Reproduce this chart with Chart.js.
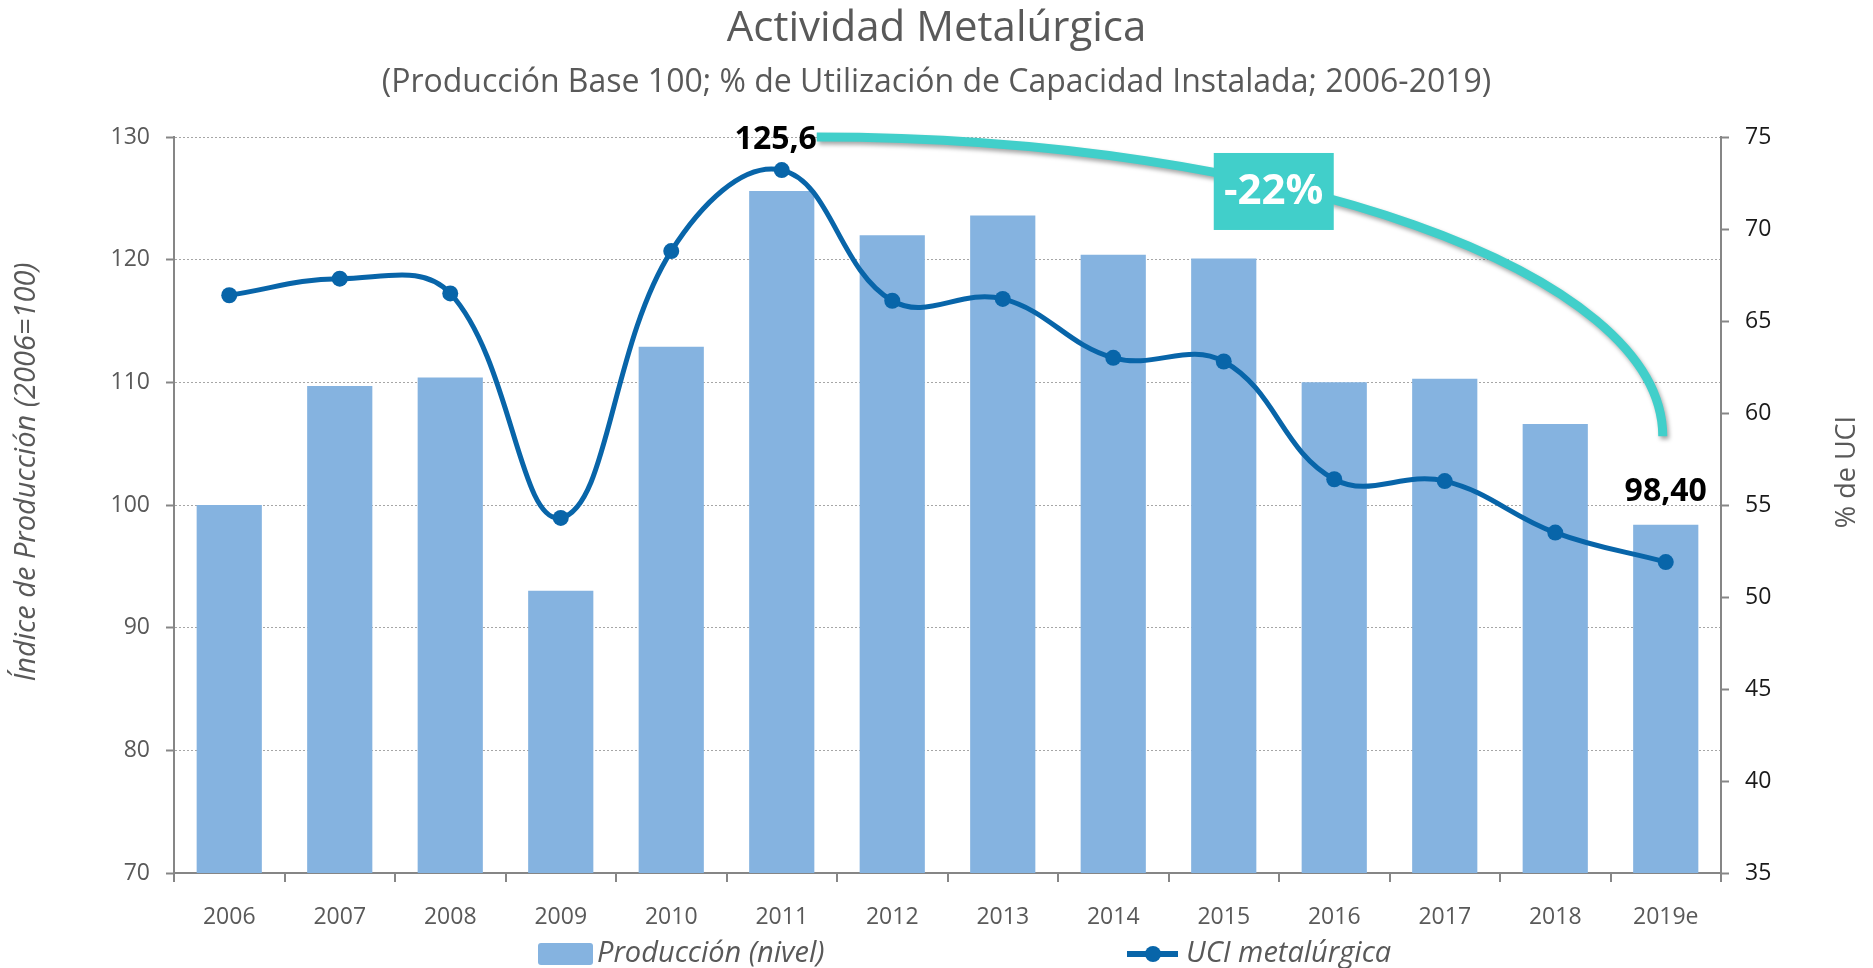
<!DOCTYPE html>
<html lang="es">
<head>
<meta charset="utf-8">
<title>Actividad Metalúrgica</title>
<script src="https://cdn.jsdelivr.net/npm/chart.js@4.4.1/dist/chart.umd.min.js"></script>
<style>
  html, body { margin: 0; padding: 0; background: #fff; }
  #contenedor { width: 1873px; height: 968px; }
</style>
</head>
<body>
<div id="contenedor"><canvas id="miGrafica"></canvas></div>
<script>
// Datos
const anios = ['2006', '2007', '2008', '2009', '2010', '2011', '2012', '2013', '2014', '2015', '2016', '2017', '2018', '2019e'];
const produccion = [100.0, 109.7, 110.4, 93.0, 112.9, 125.6, 122.0, 123.6, 120.4, 120.1, 110.0, 110.3, 106.6, 98.4];
const uci = [66.4, 67.3, 66.5, 54.3, 68.8, 73.2, 66.1, 66.2, 63.0, 62.8, 56.4, 56.3, 53.5, 51.9];
const ticksIzq = [70, 80, 90, 100, 110, 120, 130];
const ticksDer = [35, 40, 45, 50, 55, 60, 65, 70, 75];

const GRIS = '#595959';
const EJE = '#868686';
const AZUL_BARRA = '#85B3E0';
const AZUL_LINEA = '#0865A9';
const TURQUESA = '#41CFCA';

Chart.defaults.font.family = '"Open Sans", sans-serif';

const anotaciones = {
    id: 'anotaciones',
    afterDatasetsDraw(chart) {
        const ctx = chart.ctx;
        const x = chart.scales.x;
        const yIzq = chart.scales.yIzq;
        const iMax = produccion.indexOf(Math.max(...produccion));
        const iUlt = produccion.length - 1;

        ctx.save();
        // valores destacados
        ctx.fillStyle = '#000';
        ctx.font = 'bold 32px "Open Sans"';
        ctx.textAlign = 'center';
        ctx.textBaseline = 'middle';
        ctx.fillText(produccion[iMax].toFixed(1).replace('.', ','), x.getPixelForValue(iMax) - 6, yIzq.getPixelForValue(produccion[iMax]) - 51);
        ctx.fillText(produccion[iUlt].toFixed(2).replace('.', ','), x.getPixelForValue(iUlt), yIzq.getPixelForValue(produccion[iUlt]) - 33);

        // curva turquesa entre el maximo y el ultimo dato
        const x0 = x.getPixelForValue(iMax) + 35, y0 = yIzq.getPixelForValue(130);
        const x1 = x.getPixelForValue(iUlt) - 3, y1 = yIzq.getPixelForValue(105.6);
        ctx.save();
        ctx.shadowColor = 'rgba(0,0,0,0.35)';
        ctx.shadowBlur = 4;
        ctx.shadowOffsetX = 2;
        ctx.shadowOffsetY = 3;
        ctx.strokeStyle = TURQUESA;
        ctx.lineWidth = 9;
        ctx.beginPath();
        ctx.moveTo(x0, y0);
        ctx.bezierCurveTo(x0 + 0.55 * (x1 - x0), y0, x1, y1 - 0.55 * (y1 - y0), x1, y1);
        ctx.stroke();
        ctx.restore();

        // caja con la variacion
        const variacion = Math.round((produccion[iUlt] / produccion[iMax] - 1) * 100);
        const cx = x.getPixelForValue(9) + 50, cy = yIzq.getPixelForValue(125.6);
        ctx.fillStyle = TURQUESA;
        ctx.fillRect(cx - 60, cy - 38, 120, 77);
        ctx.fillStyle = '#fff';
        ctx.font = 'bold 42px "Open Sans"';
        ctx.fillText(variacion + '%', cx, cy + 1);
        ctx.restore();
    },
    afterDraw(chart) {
        const ctx = chart.ctx;
        const area = chart.chartArea;
        const cy = (area.top + area.bottom) / 2 - 33;
        ctx.save();
        ctx.fillStyle = GRIS;
        ctx.textAlign = 'center';
        ctx.textBaseline = 'middle';

        // titulos de ejes
        ctx.save();
        ctx.translate(27, cy);
        ctx.rotate(-Math.PI / 2);
        ctx.font = 'italic 29px "Open Sans"';
        ctx.fillText('Índice de Producción (2006=100)', 0, 0);
        ctx.restore();

        ctx.save();
        ctx.translate(1847, cy);
        ctx.rotate(-Math.PI / 2);
        ctx.font = '27px "Open Sans"';
        ctx.fillText('% de UCI', 0, 0);
        ctx.restore();

        // leyenda
        const ly = 954;
        ctx.textAlign = 'left';
        ctx.font = 'italic 29px "Open Sans"';
        ctx.fillStyle = AZUL_BARRA;
        ctx.beginPath();
        ctx.roundRect(538, ly - 11, 55, 22, 3);
        ctx.fill();
        ctx.fillStyle = GRIS;
        ctx.fillText(chart.data.datasets[0].label, 597, ly);

        ctx.strokeStyle = AZUL_LINEA;
        ctx.lineWidth = 6;
        ctx.beginPath();
        ctx.moveTo(1127, ly);
        ctx.lineTo(1178, ly);
        ctx.stroke();
        ctx.fillStyle = AZUL_LINEA;
        ctx.beginPath();
        ctx.arc(1153, ly, 8, 0, Math.PI * 2);
        ctx.fill();
        ctx.fillStyle = GRIS;
        ctx.fillText(chart.data.datasets[1].label, 1186, ly);
        ctx.restore();
    }
};

const ctx = document.getElementById('miGrafica').getContext('2d');
new Chart(ctx, {
    data: {
        labels: anios,
        datasets: [
            {
                type: 'bar',
                label: 'Producción (nivel)',
                data: produccion,
                yAxisID: 'yIzq',
                backgroundColor: AZUL_BARRA,
                barPercentage: 0.59,
                categoryPercentage: 1.0,
                order: 2
            },
            {
                type: 'line',
                label: 'UCI metalúrgica',
                data: uci,
                yAxisID: 'yDer',
                borderColor: AZUL_LINEA,
                backgroundColor: AZUL_LINEA,
                borderWidth: 5,
                pointRadius: 8,
                pointBorderWidth: 0,
                tension: 0.4,
                order: 1
            }
        ]
    },
    plugins: [anotaciones],
    options: {
        responsive: true,
        maintainAspectRatio: false,
        animation: false,
        devicePixelRatio: 1,
        layout: { padding: 0 },
        plugins: {
            legend: { display: false },
            tooltip: { enabled: false },
            title: {
                display: true,
                text: 'Actividad Metalúrgica',
                color: GRIS,
                font: { size: 42, weight: 'normal' },
                padding: { top: 4, bottom: 9.4 }
            },
            subtitle: {
                display: true,
                text: '(Producción Base 100; % de Utilización de Capacidad Instalada; 2006-2019)',
                color: GRIS,
                font: { size: 32, weight: 'normal' },
                padding: { top: 0, bottom: 34.8 }
            }
        },
        scales: {
            x: {
                offset: true,
                grid: { display: true, drawOnChartArea: false, offset: true, tickLength: 9, color: EJE, lineWidth: 2 },
                border: { color: EJE, width: 2 },
                ticks: { color: GRIS, font: { size: 23 }, padding: 22, maxRotation: 0 },
                afterFit(scale) { scale.height = 95; }
            },
            yIzq: {
                position: 'left',
                min: ticksIzq[0],
                max: ticksIzq[ticksIzq.length - 1],
                ticks: { stepSize: ticksIzq[1] - ticksIzq[0], color: GRIS, font: { size: 23 }, padding: 16 },
                grid: { color: '#a6a6a6', lineWidth: 1, tickColor: EJE, tickLength: 8, tickWidth: 2 },
                border: { color: EJE, width: 2, dash: [2, 2] },
                afterFit(scale) { scale.width = 174; }
            },
            yDer: {
                position: 'right',
                min: ticksDer[0],
                max: ticksDer[ticksDer.length - 1],
                ticks: { stepSize: ticksDer[1] - ticksDer[0], color: '#1a1a1a', font: { size: 23 }, padding: 16 },
                grid: { drawOnChartArea: false, tickColor: EJE, tickLength: 8, tickWidth: 2 },
                border: { color: EJE, width: 2 },
                afterFit(scale) { scale.width = 152; }
            }
        }
    }
});
</script>
</body>
</html>
